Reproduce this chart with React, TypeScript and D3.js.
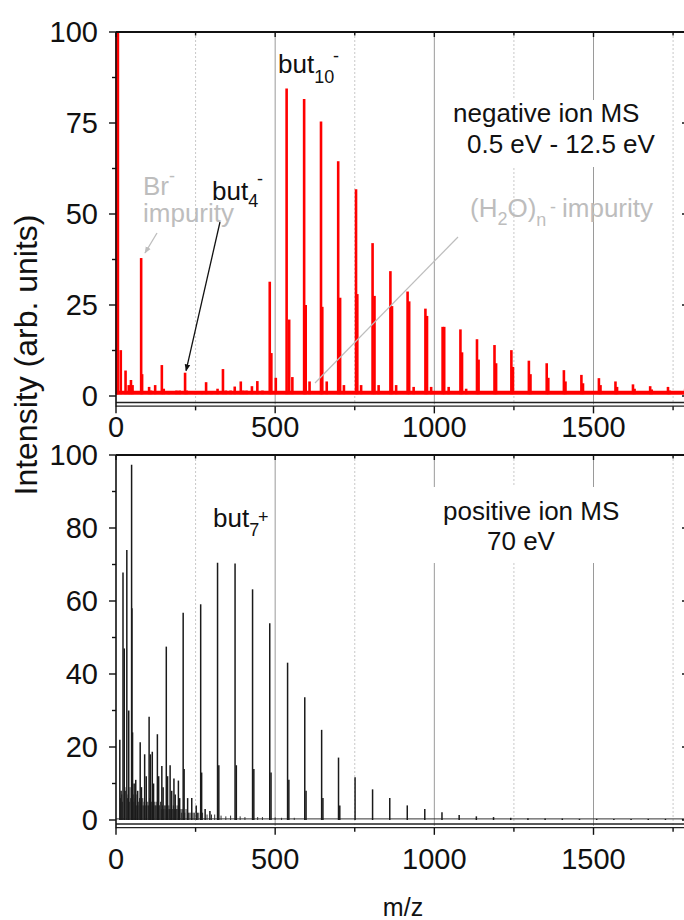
import React from 'react';
import * as d3 from 'd3';

// ---- data: negative ion spectrum (m/z, intensity) ----
const negPeaks: [number, number][] = [
  [2, 100], [6, 100], [15, 12.6], [30, 7], [40, 3], [47, 4.4], [52, 3], [79, 37.9], [82, 6],
  [104, 2.5], [110, 1.5], [123, 3], [144, 8.5], [150, 2], [166, 1.2], [190, 1.5], [200, 1.5],
  [217, 6.4], [222, 1.5], [250, 1], [270, 1.2], [283, 3.8], [300, 1.2], [319, 2], [336, 7.4],
  [345, 1.5], [360, 1.5], [373, 2.6], [392, 4], [400, 1.5], [410, 1.5], [427, 2.7], [444, 4.1],
  [460, 1.5], [483, 31.4], [488, 11.8], [502, 5], [536, 84.5], [544, 21], [554, 5.2],
  [591, 81.6], [596, 25], [608, 4], [644, 75.4], [648, 24.5], [662, 4], [698, 64.5], [704, 27],
  [716, 3], [754, 56.8], [758, 28], [770, 3], [806, 42], [812, 27.5], [825, 3], [862, 34.3],
  [867, 24.7], [880, 3], [916, 28.7], [921, 26], [935, 2.5], [972, 24], [977, 22], [990, 2.5],
  [1026, 19], [1031, 19], [1045, 2.5], [1082, 18.3], [1087, 12], [1100, 2], [1134, 15.6],
  [1139, 10], [1189, 14], [1194, 9], [1242, 12.6], [1247, 8], [1297, 9.7], [1302, 6],
  [1353, 9], [1358, 5], [1407, 7.1], [1412, 4], [1462, 5.8], [1467, 3.5], [1517, 4.9],
  [1522, 3], [1569, 4], [1574, 2.5], [1624, 3.2], [1629, 2], [1678, 2.7], [1683, 1.8],
  [1734, 2.5], [1739, 1.5], [1788, 2],
];

// ---- data: positive ion spectrum (m/z, intensity) ----
const posPeaks: [number, number][] = [
  [12, 22], [16, 8], [22, 67.8], [26, 47], [34, 74], [40, 30], [49, 97.3], [50, 58], [52, 24],
  [57, 10], [62, 11], [68, 8], [76, 21.3], [80, 9], [90, 18], [95, 12], [104, 28.3], [108, 18],
  [114, 18.7], [118, 10], [130, 23.5], [134, 12], [144, 14.8], [148, 9], [158, 47.5], [162, 12],
  [170, 15], [175, 8], [182, 11.4], [186, 7], [196, 10.8], [200, 6], [211, 56.8], [214, 14],
  [225, 6], [238, 6], [252, 4], [266, 59.1], [269, 13], [280, 3], [295, 2.5], [319, 70.5],
  [323, 15], [374, 70.3], [378, 15], [429, 63.2], [433, 14], [483, 53.9], [487, 13],
  [539, 43.1], [543, 11], [593, 33.6], [597, 8], [646, 24.7], [650, 6], [699, 17.1], [703, 4],
  [751, 11.7], [806, 8.4], [860, 6], [915, 4], [970, 3], [1024, 2.1], [1078, 1.4], [1132, 1],
  [1186, 0.8], [1240, 0.6], [1294, 0.5], [1348, 0.4], [1402, 0.4], [1456, 0.3], [1510, 0.3],
  [1564, 0.3], [1618, 0.3], [1672, 0.3], [1726, 0.3], [1780, 0.3],
];
const posMinor: [number, number][] = [
  [14, 6], [18, 7], [20, 5], [28, 9], [30, 8], [36, 6], [38, 7], [42, 5], [44, 9], [46, 6],
  [54, 7], [56, 5], [60, 6], [64, 4], [66, 7], [70, 5], [72, 4], [74, 6], [78, 5], [82, 4],
  [84, 6], [86, 4], [88, 5], [92, 4], [96, 5], [98, 4], [100, 5], [102, 4], [106, 6], [110, 4],
  [112, 5], [116, 4], [120, 5], [122, 4], [124, 4], [126, 5], [128, 4], [132, 5], [136, 4],
  [138, 4], [140, 5], [142, 3], [146, 4], [150, 3], [152, 4], [154, 3], [156, 4], [160, 3],
  [164, 3], [166, 4], [168, 3], [172, 3], [178, 3], [180, 4], [184, 3], [188, 3], [190, 3],
  [192, 4], [194, 3], [198, 3], [204, 3], [206, 2], [208, 3], [216, 2], [220, 3], [228, 2],
  [232, 2], [236, 2], [242, 2], [246, 2], [256, 2], [260, 2], [272, 2], [286, 1.5], [300, 1.5],
  [310, 1.5], [330, 1.2], [345, 1], [360, 1.2], [390, 1], [405, 0.8], [445, 0.8], [460, 0.8],
  [500, 0.7], [520, 0.6], [560, 0.6],
];

// ---- ticks ----
const xMajor = [0, 500, 1000, 1500];
const xMinor = [250, 750, 1250, 1750];
const topYMajor = [0, 25, 50, 75, 100];
const topYMinor = [12.5, 37.5, 62.5, 87.5];
const botYMajor = [0, 20, 40, 60, 80, 100];
const botYMinor = [10, 30, 50, 70, 90];

const W = 684;
const H = 920;
const FONT = "'Liberation Sans', Arial, Helvetica, sans-serif";

const x = d3.scaleLinear().domain([0, 1800]).range([116, 689]);
const yT = d3.scaleLinear().domain([0, 100]).range([396, 32]);
const yB = d3.scaleLinear().domain([0, 100]).range([820, 455]);

type Scale = d3.ScaleLinear<number, number>;

function Grid({ y, top, bottom }: { y: Scale; top: number; bottom: number }) {
  return (
    <g>
      {xMinor.map((v) => (
        <line key={'m' + v} x1={x(v)} x2={x(v)} y1={top} y2={bottom} stroke="#c8c8c8" strokeWidth={1} strokeDasharray="2,2" />
      ))}
      {xMajor.filter((v) => v > 0).map((v) => (
        <line key={'M' + v} x1={x(v)} x2={x(v)} y1={top} y2={bottom} stroke="#9a9a9a" strokeWidth={1} />
      ))}
    </g>
  );
}

function Axes({ y, major, minor, axisVal, labelBase }: { y: Scale; major: number[]; minor: number[]; axisVal: number; labelBase: number }) {
  const top = y(100);
  const ax = y(axisVal);
  const left = x(0);
  const right = x(1800);
  return (
    <g fontFamily={FONT} fill="#111">
      {/* frame */}
      <line x1={left} x2={right} y1={top} y2={top} stroke="#111" strokeWidth={1.8} />
      <line x1={left} x2={right} y1={ax - 1.8} y2={ax - 1.8} stroke="#222" strokeWidth={1.4} />
      <line x1={left} x2={right} y1={ax + 1.8} y2={ax + 1.8} stroke="#222" strokeWidth={1.4} />
      <line x1={left} x2={left} y1={top} y2={ax + 2.5} stroke="#111" strokeWidth={1.6} />
      <line x1={right} x2={right} y1={top} y2={ax + 2.5} stroke="#111" strokeWidth={1.6} />
      {/* x ticks */}
      {xMajor.map((v) => (
        <g key={'xt' + v}>
          <line x1={x(v)} x2={x(v)} y1={ax + 1.8} y2={ax + 9} stroke="#111" strokeWidth={1.4} />
          <line x1={x(v)} x2={x(v)} y1={top} y2={top + 5} stroke="#111" strokeWidth={1.4} />
          <text x={x(v)} y={labelBase} fontSize={29} textAnchor="middle">{v}</text>
        </g>
      ))}
      {xMinor.map((v) => (
        <g key={'xm' + v}>
          <line x1={x(v)} x2={x(v)} y1={ax + 1.8} y2={ax + 6} stroke="#111" strokeWidth={1.4} />
          <line x1={x(v)} x2={x(v)} y1={top} y2={top + 3.5} stroke="#111" strokeWidth={1.4} />
        </g>
      ))}
      {/* y ticks */}
      {major.map((v) => (
        <g key={'yt' + v}>
          <line x1={left - 7} x2={left} y1={y(v)} y2={y(v)} stroke="#111" strokeWidth={1.4} />
          <line x1={right - 7} x2={right} y1={y(v)} y2={y(v)} stroke="#111" strokeWidth={1.4} />
          <text x={98} y={y(v)} dy="0.36em" fontSize={29} textAnchor="end">{v}</text>
        </g>
      ))}
      {minor.map((v) => (
        <g key={'ym' + v}>
          <line x1={left - 4} x2={left} y1={y(v)} y2={y(v)} stroke="#111" strokeWidth={1.4} />
          <line x1={right - 4} x2={right} y1={y(v)} y2={y(v)} stroke="#111" strokeWidth={1.4} />
        </g>
      ))}
    </g>
  );
}

export default function App() {
  const gray = '#bdbdbd';
  return (
    <svg width={W} height={H} viewBox={`0 0 ${W} ${H}`} style={{ position: 'absolute', left: 0, top: 0, background: '#fff' }}>
      <defs>
        <marker id="ahBlack" viewBox="0 0 10 10" refX="9" refY="5" markerWidth="7" markerHeight="7" orient="auto" markerUnits="userSpaceOnUse">
          <path d="M0,1 L10,5 L0,9 z" fill="#111" />
        </marker>
        <marker id="ahGray" viewBox="0 0 10 10" refX="9" refY="5" markerWidth="7" markerHeight="7" orient="auto" markerUnits="userSpaceOnUse">
          <path d="M0,1 L10,5 L0,9 z" fill={gray} />
        </marker>
      </defs>
      <rect x={0} y={0} width={W} height={H} fill="#fff" />

      {/* grids */}
      <Grid y={yT} top={yT(100)} bottom={yT(-2.3)} />
      <Grid y={yB} top={yB(100)} bottom={yB(-1.6)} />

      {/* white boxes behind text blocks */}
      <rect x={445} y={100} width={215} height={67} fill="#fff" />
      <rect x={430} y={487} width={200} height={76} fill="#fff" />

      {/* negative ion spectrum */}
      <line x1={x(0)} x2={x(1800)} y1={yT(0.9)} y2={yT(0.9)} stroke="#ff0000" strokeWidth={4} />
      {negPeaks.map(([m, h], i) => (
        <line key={'n' + i} x1={x(m)} x2={x(m)} y1={yT(0.5)} y2={yT(h)} stroke="#ff0000" strokeWidth={2.6} />
      ))}

      {/* positive ion spectrum */}
      <line x1={x(0)} x2={x(1800)} y1={yB(0.3)} y2={yB(0.3)} stroke="#333" strokeWidth={1} />
      {posMinor.map(([m, h], i) => (
        <line key={'pm' + i} x1={x(m)} x2={x(m)} y1={yB(0)} y2={yB(h)} stroke="#333" strokeWidth={1} />
      ))}
      {posPeaks.map(([m, h], i) => (
        <line key={'p' + i} x1={x(m)} x2={x(m)} y1={yB(0)} y2={yB(h)} stroke="#1a1a1a" strokeWidth={1.5} />
      ))}

      <Axes y={yT} major={topYMajor} minor={topYMinor} axisVal={-2.3} labelBase={437} />
      <Axes y={yB} major={botYMajor} minor={botYMinor} axisVal={-1.6} labelBase={869} />

      {/* annotation arrows */}
      <line x1={220} y1={222} x2={x(217) + 1} y2={yT(6.4) - 2} stroke="#111" strokeWidth={1.3} markerEnd="url(#ahBlack)" />
      <line x1={157} y1={233} x2={145} y2={253} stroke={gray} strokeWidth={1.3} markerEnd="url(#ahGray)" />
      <line x1={458} y1={237} x2={315} y2={383} stroke={gray} strokeWidth={1.2} />

      {/* annotation texts */}
      <g fontFamily={FONT}>
        <text x={278} y={73} fontSize={26} fill="#111">
          but<tspan fontSize={18} dy={10}>10</tspan>
          <tspan fontSize={18} x={333} dy={-21}>-</tspan>
        </text>
        <text x={212} y={200} fontSize={26} fill="#111">
          but<tspan fontSize={18} dy={7}>4</tspan>
          <tspan fontSize={18} x={257} dy={-22}>-</tspan>
        </text>
        <text x={143} y={195} fontSize={26} fill={gray}>
          Br<tspan fontSize={18} x={169} dy={-13}>-</tspan>
        </text>
        <text x={143} y={222} fontSize={26} fill={gray}>impurity</text>
        <text x={470} y={217} fontSize={26} fill={gray}>
          (H<tspan fontSize={18} dy={8}>2</tspan>
          <tspan dy={-8}>O)</tspan>
          <tspan fontSize={18} dy={9}>n</tspan>
          <tspan fontSize={18} x={550} dy={-13}>-</tspan>
          <tspan x={562} dy={4}>impurity</tspan>
        </text>
        <text x={453} y={122} fontSize={26} fill="#111">negative ion MS</text>
        <text x={467} y={153} fontSize={26} fill="#111">0.5 eV - 12.5 eV</text>
        <text x={213} y={527} fontSize={26} fill="#111">
          but<tspan fontSize={18} dy={9}>7</tspan>
          <tspan fontSize={18} x={258} dy={-13}>+</tspan>
        </text>
        <text x={443} y={520} fontSize={26} fill="#111">positive ion MS</text>
        <text x={487} y={550} fontSize={26} fill="#111">70 eV</text>

        <text x={403} y={916} fontSize={25} textAnchor="middle" fill="#111">m/z</text>
        <text transform="translate(37,355) rotate(-90)" fontSize={32} textAnchor="middle" fill="#111">Intensity (arb. units)</text>
      </g>
    </svg>
  );
}
